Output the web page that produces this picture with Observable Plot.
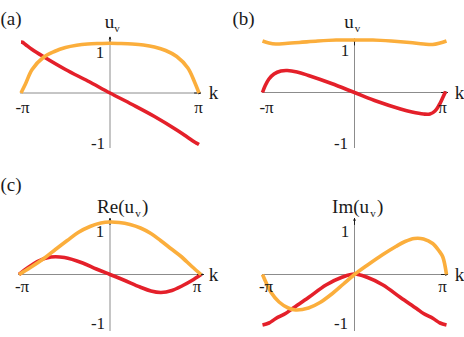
<!DOCTYPE html>
<html><head><meta charset="utf-8">
<script src="https://cdn.jsdelivr.net/npm/d3@7"></script>
<script src="https://cdn.jsdelivr.net/npm/@observablehq/plot@0.6"></script>
<style>
body{margin:0;background:#fff}
#fig{position:relative;width:464px;height:337px;overflow:hidden;background:#fff}
#fig svg{position:absolute}
</style></head><body><div id="fig"></div>
<script>
// k is given in units of π (k/π), values are u_v
// panel (a)
const aOrangeK = [-1, -0.95, -0.875, -0.75, -0.625, -0.5, -0.375, -0.25, -0.125, 0, 0.125, 0.25, 0.375, 0.5, 0.625, 0.75, 0.875, 0.95, 1];
const aOrangeV = [0, 0.18, 0.47, 0.71, 0.83, 0.91, 0.955, 0.98, 0.99, 0.995, 0.99, 0.98, 0.96, 0.92, 0.85, 0.73, 0.50, 0.22, 0];
const aRedK = [-1, -0.985, -0.95, -0.875, -0.75, -0.5, -0.25, 0, 0.25, 0.5, 0.75, 0.875, 0.95, 0.98, 1];
const aRedV = [1.02, 1.015, 0.97, 0.87, 0.73, 0.47, 0.24, 0, -0.23, -0.47, -0.74, -0.89, -0.98, -1.01, -1.03];
// panel (b)
const bOrangeK = [-1, -0.93, -0.855, -0.75, -0.6, -0.4, -0.2, 0, 0.2, 0.4, 0.6, 0.75, 0.85, 0.93, 1];
const bOrangeV = [1.03, 0.99, 0.97, 0.98, 1.0, 1.03, 1.05, 1.05, 1.05, 1.03, 1.0, 0.97, 0.96, 0.99, 1.03];
const bRedK = [-1, -0.97, -0.93, -0.875, -0.8, -0.73, -0.625, -0.5, -0.25, 0, 0.25, 0.5, 0.625, 0.75, 0.82, 0.875, 0.92, 0.96, 0.99];
const bRedV = [0, 0.14, 0.27, 0.37, 0.43, 0.44, 0.41, 0.34, 0.18, 0, -0.18, -0.33, -0.39, -0.43, -0.43, -0.37, -0.25, -0.1, 0.02];
// panel (c) Re(u_v)
const cReOrangeK = [-1, -0.875, -0.727, -0.6, -0.47, -0.35, -0.22, -0.1, 0, 0.1, 0.22, 0.335, 0.45, 0.555, 0.675, 0.775, 0.9, 1];
const cReOrangeV = [0, 0.14, 0.32, 0.5, 0.68, 0.84, 0.96, 1.03, 1.05, 1.04, 1.0, 0.93, 0.82, 0.68, 0.51, 0.37, 0.16, 0];
const cReRedK = [-1, -0.9, -0.8, -0.65, -0.5, -0.3, -0.15, 0, 0.15, 0.33, 0.45, 0.56, 0.68, 0.8, 0.9, 1];
const cReRedV = [0, 0.14, 0.26, 0.35, 0.34, 0.23, 0.11, 0, -0.11, -0.25, -0.33, -0.36, -0.32, -0.22, -0.12, 0];
// panel (c) Im(u_v)
const cImOrangeK = [-1, -0.964, -0.91, -0.82, -0.72, -0.64, -0.5, -0.375, -0.24, -0.12, 0, 0.15, 0.3, 0.45, 0.55, 0.65, 0.75, 0.85, 0.92, 0.96, 1];
const cImOrangeV = [0, -0.15, -0.35, -0.55, -0.67, -0.71, -0.67, -0.56, -0.38, -0.19, 0, 0.2, 0.39, 0.56, 0.66, 0.72, 0.71, 0.62, 0.47, 0.35, 0];
const cImRedK = [-1, -0.93, -0.855, -0.75, -0.674, -0.5, -0.31, -0.13, 0, 0.13, 0.31, 0.5, 0.674, 0.75, 0.855, 0.93, 1];
const cImRedV = [-1.01, -0.97, -0.88, -0.78, -0.68, -0.46, -0.21, -0.05, 0.01, -0.05, -0.21, -0.46, -0.68, -0.78, -0.88, -0.97, -1.01];

// tick labels
const kTickLabels = ["-π", "π"];
const kTickValues = [-1, 1];
const uTickLabels = ["1", "-1"];
const uTickValues = [1, -1];
const kAxisLabel = "k";

const ORANGE = "#FBAE3C";
const RED = "#E4202A";
const AXIS = "#8c8c8c";
const INK = "#1a1a1a";
const FONT = "'Liberation Serif', 'Times New Roman', Times, serif";

const zip = (K, V) => K.map((k, i) => ({k, v: V[i]}));

const panels = [
  {left: 0, top: 0, w: 232, h: 168, xr: [20.5, 198.5], axisY: 92.5,
   h1: [-1.005, 1.017], v1: [-1.11, 1.116],
   red: zip(aRedK, aRedV), orange: zip(aOrangeK, aOrangeV),
   letter: "(a)", letterDy: 11,
   title: [{t: "u", dx: 109, dy: 14, fs: 19, a: "middle"}, {t: "v", dx: 116.5, dy: 23.5, fs: 11, a: "middle"}],
   kLab: [{dx: 1.5, dy: 15}, {dx: -0.5, dy: 15}], uLab: [{dx: -10, dy: 9.5}, {dx: -12, dy: 0.5}], kDx: 14.5},
  {left: 232, top: 0, w: 232, h: 168, xr: [30, 214], axisY: 92,
   h1: [-1.0, 1.01], v1: [-1.12, 1.07],
   red: zip(bRedK, bRedV), orange: zip(bOrangeK, bOrangeV),
   letter: "(b)", letterDy: 11,
   title: [{t: "u", dx: 116.5, dy: 14, fs: 19, a: "middle"}, {t: "v", dx: 125, dy: 23.5, fs: 11, a: "middle"}],
   kLab: [{dx: 4, dy: 15}, {dx: -4, dy: 15}], uLab: [{dx: -9.5, dy: 8}, {dx: -13.5, dy: 1}], kDx: 13},
  {left: 0, top: 168, w: 232, h: 169, xr: [18.5, 200.5], axisY: 106,
   h1: [-1.005, 1.027], v1: [-1.14, 1.12],
   red: zip(cReRedK, cReRedV), orange: zip(cReOrangeK, cReOrangeV),
   letter: "(c)", letterDy: 9,
   title: [{t: "Re(u", dx: 133.5, dy: 31, fs: 19, a: "end"}, {t: "v", dx: 137.5, dy: 40.5, fs: 11, a: "middle"}, {t: ")", dx: 141.5, dy: 31, fs: 19, a: "start"}],
   kLab: [{dx: 3, dy: 12}, {dx: -4, dy: 12}], uLab: [{dx: -10, dy: 7}, {dx: -12, dy: -1}], kDx: 12.5},
  {left: 232, top: 168, w: 232, h: 169, xr: [30, 214], axisY: 106,
   h1: [-1.0, 1.01], v1: [-1.14, 1.12],
   red: zip(cImRedK, cImRedV), orange: zip(cImOrangeK, cImOrangeV),
   letter: "", letterDy: 9,
   title: [{t: "Im(u", dx: 136.5, dy: 31, fs: 19, a: "end"}, {t: "v", dx: 140.5, dy: 40.5, fs: 11, a: "middle"}, {t: ")", dx: 144.5, dy: 31, fs: 19, a: "start"}],
   kLab: [{dx: 3.5, dy: 12}, {dx: -4, dy: 12}], uLab: [{dx: -9.5, dy: 7}, {dx: -13.5, dy: -1}], kDx: 13}
];

const fig = document.getElementById("fig");

for (const p of panels) {
  const pxPerK = (p.xr[1] - p.xr[0]) / 2;
  const hArrowLen = 6 / pxPerK;
  const vArrowLen = 6 / 50;
  const marks = [
    Plot.ruleY([0], {x1: p.h1[0], x2: p.h1[1] - hArrowLen * 0.5, stroke: AXIS, strokeWidth: 1}),
    Plot.ruleX([0], {y1: p.v1[0], y2: p.v1[1] - vArrowLen * 0.5, stroke: AXIS, strokeWidth: 1}),
    Plot.arrow([0], {x1: p.h1[1] - hArrowLen, x2: p.h1[1], y1: 0, y2: 0, stroke: INK, strokeWidth: 1, headLength: 5, headAngle: 40}),
    Plot.arrow([0], {x1: 0, x2: 0, y1: p.v1[1] - vArrowLen, y2: p.v1[1], stroke: INK, strokeWidth: 1, headLength: 5, headAngle: 40}),
    Plot.line(p.red, {x: "k", y: "v", stroke: RED, strokeWidth: 3.6, curve: "catmull-rom", strokeLinecap: "butt"}),
    Plot.line(p.orange, {x: "k", y: "v", stroke: ORANGE, strokeWidth: 3.6, curve: "catmull-rom", strokeLinecap: "butt"}),
  ];
  kTickLabels.forEach((lab, i) => {
    marks.push(Plot.text([lab], {x: kTickValues[i], y: 0, dx: p.kLab[i].dx, dy: p.kLab[i].dy, fontSize: 17, fill: INK}));
  });
  uTickLabels.forEach((lab, i) => {
    marks.push(Plot.text([lab], {x: 0, y: uTickValues[i], dx: p.uLab[i].dx, dy: p.uLab[i].dy, fontSize: 17, fill: INK}));
  });
  marks.push(Plot.text([kAxisLabel], {x: 1, y: 0, dx: p.kDx, dy: 0, fontSize: 19, fill: INK}));
  if (p.letter) marks.push(Plot.text([p.letter], {frameAnchor: "top-left", dx: 0, dy: p.letterDy, textAnchor: "start", fontSize: 19, fill: INK}));
  for (const t of p.title) {
    marks.push(Plot.text([t.t], {frameAnchor: "top-left", dx: t.dx, dy: t.dy, textAnchor: t.a, fontSize: t.fs, fill: INK}));
  }
  const svg = Plot.plot({
    width: p.w, height: p.h, margin: 0,
    x: {domain: [-1, 1], range: p.xr, axis: null},
    y: {domain: [-1, 1], range: [p.axisY + 50, p.axisY - 50], axis: null},
    style: {fontFamily: FONT, background: "transparent", overflow: "visible"},
    marks
  });
  svg.style.left = p.left + "px";
  svg.style.top = p.top + "px";
  fig.appendChild(svg);
}
</script>
</body></html>
